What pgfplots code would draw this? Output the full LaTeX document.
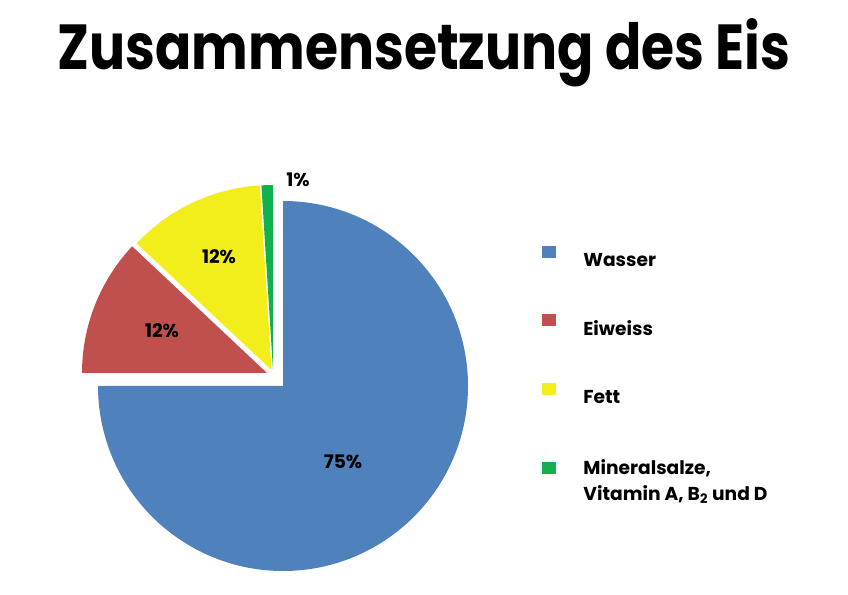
\documentclass[border=0pt]{standalone}
\usepackage{fontspec}
\setmainfont{Poppins}
\usepackage{graphicx}
\usepackage{pgfplots}
\pgfplotsset{compat=1.18}
\definecolor{cWasser}{HTML}{4F81BD}
\definecolor{cEiweiss}{HTML}{C0504D}
\definecolor{cFett}{HTML}{F2EE1B}
\definecolor{cMineral}{HTML}{12B04E}
% shares in percent
\def\vWasser{75}
\def\vEiweiss{12}
\def\vFett{12}
\def\vMineral{1}
\pgfmathsetmacro\aA{90}
\pgfmathsetmacro\aB{\aA-3.6*\vWasser}
\pgfmathsetmacro\aBB{\aB+360}
\pgfmathsetmacro\aC{\aBB-3.6*\vEiweiss}
\pgfmathsetmacro\aD{\aC-3.6*\vFett}
\pgfmathsetmacro\aE{\aD-3.6*\vMineral}
\def\R{1.85in}
\pgfplotsset{sq/.style={legend image code/.code={\fill[#1] (0pt,2.9pt) rectangle (9pt,10.5pt); \path[draw=none,fill=none] (0pt,0pt) rectangle (29.5pt,12pt);}},
  sqlow/.style={legend image code/.code={\fill[#1] (0pt,-4.8pt) rectangle (9pt,2.8pt); \path[draw=none,fill=none] (0pt,0pt) rectangle (29.5pt,12pt);}}}
\begin{document}
\begin{tikzpicture}
\begin{axis}[
  scale only axis, width=8.48in, height=5.94in,
  xmin=0, xmax=848, ymin=0, ymax=594,
  axis lines=none, clip=false,
  legend style={draw=none, fill=none, at={(axis cs:542,350)}, anchor=north west,
    inner sep=0pt, row sep=31.8pt, column sep=0pt,
    font=\bfseries\fontsize{13.5}{18.7}\selectfont,
    nodes={inner sep=0pt, align=left}},
  legend cell align=left,
]
\fill[cWasser] (axis cs:283,208) -- ++(\aA:\R) arc[start angle=\aA, end angle=\aB, radius=\R] -- cycle;
\fill[cEiweiss] (axis cs:267,221) -- ++(\aBB:\R) arc[start angle=\aBB, end angle=\aC, radius=\R] -- cycle;
\fill[cFett] (axis cs:271.5,224) -- ++(\aC:\R) arc[start angle=\aC, end angle=\aD, radius=\R] -- cycle;
\fill[cMineral] (axis cs:273,224) -- ++(\aD:\R) arc[start angle=\aD, end angle=\aE, radius=\R] -- cycle;

\addlegendimage{sq=cWasser}
\addlegendentry{Wasser}
\addlegendimage{sq=cEiweiss}
\addlegendentry{Eiweiss}
\addlegendimage{sq=cFett}
\addlegendentry{Fett}
\addlegendimage{sqlow=cMineral}
\addlegendentry{\begin{tabular}[t]{@{}l@{}}Mineralsalze,\\Vitamin A, B\textsubscript{2} und D\end{tabular}}

\node[anchor=base, inner sep=0pt, font=\bfseries\fontsize{46}{50}\selectfont] at (axis cs:424,524) {\resizebox{7.33in}{\height}{Zusammensetzung des Eis}};
\node[anchor=base, font=\bfseries\fontsize{13.5}{16}\selectfont] at (axis cs:343,125.5) {\vWasser\%};
\node[anchor=base, font=\bfseries\fontsize{13.5}{16}\selectfont] at (axis cs:162,256) {\vEiweiss\%};
\node[anchor=base, font=\bfseries\fontsize{13.5}{16}\selectfont] at (axis cs:219,330) {\vFett\%};
\node[anchor=base, font=\bfseries\fontsize{13.5}{16}\selectfont] at (axis cs:298,407.5) {\vMineral\%};
\end{axis}
\pgfresetboundingbox
\useasboundingbox (current axis.south west) rectangle (current axis.north east);
\end{tikzpicture}
\end{document}
